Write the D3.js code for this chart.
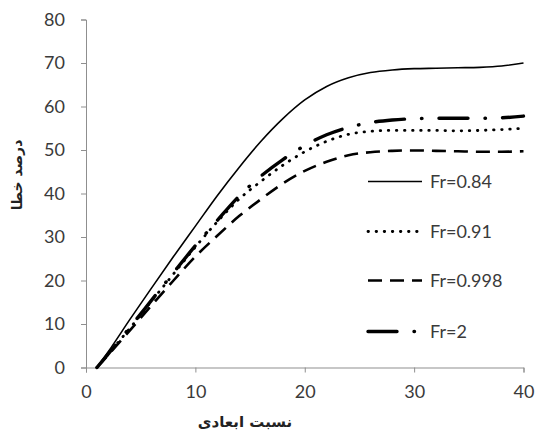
<!DOCTYPE html>
<html><head><meta charset="utf-8">
<script src="https://cdn.jsdelivr.net/npm/d3@7/dist/d3.min.js"></script>
<style>
html,body{margin:0;padding:0;background:#fff;}
svg{display:block;}
</style></head>
<body>
<svg id="chart" width="537" height="437"></svg>
<script>
const xValues = [1,2,4,6,8,10,12,14,16,18,20,22,24,26,28,30,32,34,36,38,40];
const fr084 = [0,3.5,11,18.3,25.5,32.5,39.5,46,52,57.2,61.5,64.6,66.6,67.8,68.4,68.7,68.8,68.9,69,69.3,70];
const fr091 = [0,3,9,15.3,21.5,27.7,33.5,38.7,42.8,46.5,49.6,52,53.6,54.3,54.5,54.5,54.5,54.4,54.5,54.7,55];
const fr0998 = [0,2.8,8.5,14.3,20,25.5,30.3,34.8,38.7,42.3,45.2,47.3,48.8,49.5,49.8,49.9,49.8,49.7,49.6,49.6,49.7];
const fr2 = [0,3,9.2,15.5,21.8,28,33.8,39.4,44,47.8,51,53.5,55.2,56.3,56.9,57.2,57.3,57.3,57.3,57.4,57.8];
const seriesNames = ["Fr=0.84","Fr=0.91","Fr=0.998","Fr=2"];
const xTicks = [0,10,20,30,40];
const yTicks = [0,10,20,30,40,50,60,70,80];
const xTitle = "نسبت ابعادی";
const yTitle = "درصد خطا";

const styles = [
  {w:1.6, dash:null, cap:"butt"},
  {w:2.8, dash:"0.5,7.6", cap:"round"},
  {w:2.6, dash:"14,8", cap:"butt"},
  {w:3.4, dash:"29,17,0.5,17", cap:"round"}
];
const allSeries = [fr084, fr091, fr0998, fr2];

const svg = d3.select("#chart");
const x = d3.scaleLinear().domain([0,40]).range([86,523.5]);
const y = d3.scaleLinear().domain([0,80]).range([367.5,19.5]);

const axisColor = "#8f8f8f";
const labelColor = "#3a3a3a";
const font = "Lato, 'Open Sans', sans-serif";

// X axis
const gx = svg.append("g").attr("transform", `translate(0,${y(0)})`)
  .call(d3.axisBottom(x).tickValues(xTicks).tickSize(5).tickPadding(13).tickFormat(d3.format("d")));
gx.select(".domain").attr("stroke", axisColor);
gx.selectAll(".tick line").attr("stroke", axisColor);
gx.selectAll("text").attr("fill", labelColor).style("font-family", font).style("font-size","18px");

// Y axis
const gy = svg.append("g").attr("transform", `translate(${x(0)},0)`)
  .call(d3.axisLeft(y).tickValues(yTicks).tickSize(5).tickPadding(16).tickFormat(d3.format("d")));
gy.select(".domain").attr("stroke", axisColor);
gy.selectAll(".tick line").attr("stroke", axisColor);
gy.selectAll("text").attr("fill", labelColor).style("font-family", font).style("font-size","18px");

// Lines
const line = d3.line().x((d,i)=>x(xValues[i])).y(d=>y(d)).curve(d3.curveMonotoneX);
allSeries.forEach((s,k)=>{
  svg.append("path").datum(s)
    .attr("d", line)
    .attr("fill","none")
    .attr("stroke","#000")
    .attr("stroke-width", styles[k].w)
    .attr("stroke-dasharray", styles[k].dash)
    .attr("stroke-linecap", styles[k].cap);
});

// Legend
const legY = [181.5, 231.5, 280.5, 331.5];
seriesNames.forEach((name,k)=>{
  svg.append("line")
    .attr("x1", 368).attr("x2", 422)
    .attr("y1", legY[k]).attr("y2", legY[k])
    .attr("stroke","#000")
    .attr("stroke-width", styles[k].w)
    .attr("stroke-dasharray", styles[k].dash)
    .attr("stroke-linecap", styles[k].cap);
  svg.append("text")
    .attr("x", 430).attr("y", legY[k]).attr("dy","0.35em")
    .attr("fill", labelColor)
    .style("font-family", font).style("font-size","18px")
    .text(name);
});

// Axis titles
svg.append("text")
  .attr("x", 245).attr("y", 427)
  .attr("text-anchor","middle")
  .style("font-family","'DejaVu Sans', sans-serif")
  .style("font-weight","bold").style("font-size","15px")
  .attr("fill","#222")
  .text(xTitle);
svg.append("text")
  .attr("transform","translate(22,175) rotate(-90)")
  .attr("text-anchor","middle")
  .style("font-family","'DejaVu Sans', sans-serif")
  .style("font-weight","bold").style("font-size","14px")
  .attr("fill","#222")
  .text(yTitle);
</script>
</body></html>
